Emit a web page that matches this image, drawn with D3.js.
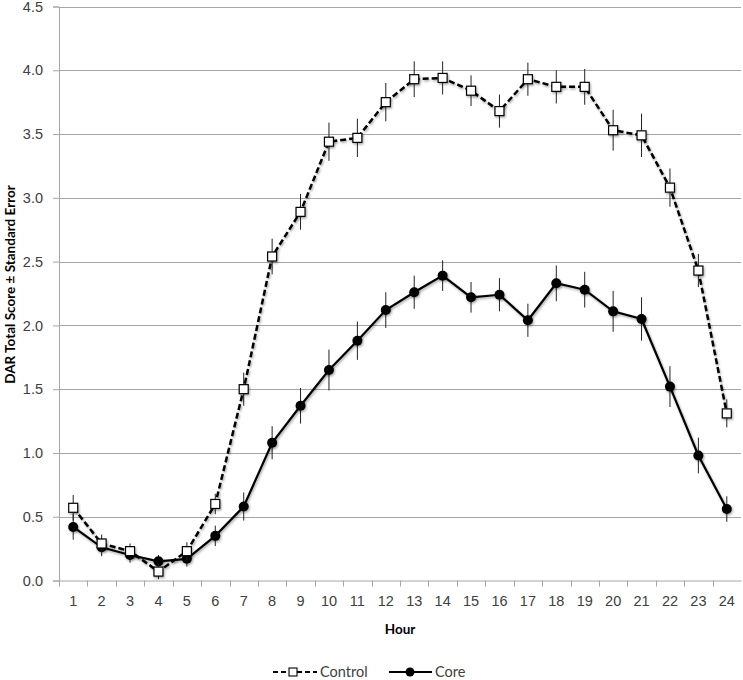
<!DOCTYPE html>
<html>
<head>
<meta charset="utf-8">
<script src="https://cdn.jsdelivr.net/npm/d3@7"></script>
<style>
  body { margin: 0; background: #fff; }
  svg { display: block; font-family: Lato, "Open Sans", sans-serif; }
  .tick text { fill: #404040; font-size: 14.5px; }
</style>
</head>
<body>
<div id="chart"></div>
<script>
const hours = d3.range(1, 25).map(String)
const yTicks = [0, 0.5, 1, 1.5, 2, 2.5, 3, 3.5, 4, 4.5]

const controlMean = [0.57, 0.29, 0.23, 0.07, 0.23, 0.60, 1.50, 2.54, 2.89, 3.44, 3.47, 3.75,
    3.93, 3.94, 3.84, 3.68, 3.93, 3.87, 3.87, 3.53, 3.49, 3.08, 2.43, 1.31]
const controlErr = [0.10, 0.07, 0.06, 0.06, 0.07, 0.08, 0.13, 0.14, 0.14, 0.15, 0.15, 0.15,
    0.14, 0.13, 0.12, 0.13, 0.13, 0.13, 0.14, 0.16, 0.17, 0.15, 0.13, 0.11]

const coreMean = [0.42, 0.26, 0.20, 0.15, 0.17, 0.35, 0.58, 1.08, 1.37, 1.65, 1.88, 2.12,
    2.26, 2.39, 2.22, 2.24, 2.04, 2.33, 2.28, 2.11, 2.05, 1.52, 0.98, 0.56]
const coreErr = [0.10, 0.07, 0.06, 0.05, 0.06, 0.08, 0.11, 0.13, 0.14, 0.16, 0.15, 0.14,
    0.13, 0.12, 0.12, 0.13, 0.13, 0.14, 0.14, 0.16, 0.17, 0.16, 0.14, 0.10]

const width = 743,
    height = 680,
    margin = {
        top: 6.5,
        right: 2,
        bottom: 99.5,
        left: 59
    }

const svg = d3.select("#chart").append("svg")
    .attr("width", width)
    .attr("height", height)

const defs = svg.append("defs")
const shadow = defs.append("filter").attr("id", "shadow")
    .attr("x", "-50%").attr("y", "-50%").attr("width", "200%").attr("height", "200%")
shadow.append("feDropShadow")
    .attr("dx", 1).attr("dy", 1.5).attr("stdDeviation", 1.2)
    .attr("flood-color", "#000").attr("flood-opacity", 0.35)

const x = d3.scaleBand().domain(hours).range([margin.left, width - margin.right])
const y = d3.scaleLinear().domain([0, 4.5]).range([height - margin.bottom, margin.top])
const cx = d => x(d) + x.bandwidth() / 2

// gridlines
svg.append("g")
    .selectAll("line")
    .data(yTicks.slice(1))
    .enter().append("line")
    .attr("x1", margin.left)
    .attr("x2", width - margin.right)
    .attr("y1", d => Math.round(y(d)) + 0.5)
    .attr("y2", d => Math.round(y(d)) + 0.5)
    .attr("stroke", "#a6a6a6")
    .attr("stroke-width", 1)

// y axis
const yAxis = svg.append("g")
    .attr("transform", `translate(${margin.left},0)`)
    .call(d3.axisLeft(y).tickValues(yTicks).tickFormat(d3.format(".1f")).tickSize(6).tickPadding(10))
yAxis.select(".domain").attr("stroke", "#a6a6a6")
yAxis.selectAll(".tick line").attr("stroke", "#a6a6a6")

// x axis
const xAxis = svg.append("g")
    .attr("transform", `translate(0,${y(0)})`)
    .call(d3.axisBottom(x).tickSize(0).tickPadding(15))
xAxis.select(".domain").attr("stroke", "#a6a6a6")
xAxis.selectAll(".tick text").attr("dy", "0.71em")
xAxis.selectAll(".boundary")
    .data(hours)
    .enter().append("line")
    .attr("class", "boundary")
    .attr("x1", d => Math.round(x(d)) + 0.5)
    .attr("x2", d => Math.round(x(d)) + 0.5)
    .attr("y1", 0)
    .attr("y2", 6)
    .attr("stroke", "#a6a6a6")

// axis titles
svg.append("text")
    .attr("transform", `translate(15,${(y(0) + y(4.5)) / 2 - 9}) rotate(-90)`)
    .attr("text-anchor", "middle")
    .style("font-size", "13.5px")
    .style("font-weight", "bold")
    .text("DAR Total Score ± Standard Error")

svg.append("text")
    .attr("x", (margin.left + width - margin.right) / 2)
    .attr("y", 634)
    .attr("text-anchor", "middle")
    .style("font-size", "13.5px")
    .style("font-weight", "bold")
    .text("Hour")

function drawSeries(mean, err, dashed, marker) {
    const data = hours.map((h, i) => ({ h: h, v: mean[i], e: err[i] }))
    const g = svg.append("g")

    g.selectAll(".err")
        .data(data)
        .enter().append("line")
        .attr("x1", d => cx(d.h))
        .attr("x2", d => cx(d.h))
        .attr("y1", d => y(d.v - d.e))
        .attr("y2", d => y(d.v + d.e))
        .attr("stroke", "#222")
        .attr("stroke-width", 1)

    g.append("path")
        .datum(data)
        .attr("d", d3.line().x(d => cx(d.h)).y(d => y(d.v)))
        .attr("fill", "none")
        .attr("stroke", "#000")
        .attr("stroke-width", dashed ? 2.5 : 2.2)
        .attr("stroke-dasharray", dashed ? "6,3" : null)
        .attr("filter", "url(#shadow)")

    if (marker === "square") {
        g.selectAll(".pt")
            .data(data)
            .enter().append("rect")
            .attr("x", d => cx(d.h) - 4.5)
            .attr("y", d => y(d.v) - 4.5)
            .attr("width", 9)
            .attr("height", 9)
            .attr("fill", "#fff")
            .attr("stroke", "#000")
            .attr("stroke-width", 1.2)
            .attr("filter", "url(#shadow)")
    } else {
        g.selectAll(".pt")
            .data(data)
            .enter().append("circle")
            .attr("cx", d => cx(d.h))
            .attr("cy", d => y(d.v))
            .attr("r", 5)
            .attr("fill", "#000")
            .attr("filter", "url(#shadow)")
    }
}

drawSeries(coreMean, coreErr, false, "circle")
drawSeries(controlMean, controlErr, true, "square")

// legend
const legend = svg.append("g").attr("transform", "translate(0,672)")
legend.append("line")
    .attr("x1", 273).attr("x2", 317).attr("y1", 0).attr("y2", 0)
    .attr("stroke", "#000").attr("stroke-width", 2.2).attr("stroke-dasharray", "5,3")
legend.append("rect")
    .attr("x", 289).attr("y", -4).attr("width", 8).attr("height", 8)
    .attr("fill", "#fff").attr("stroke", "#000").attr("stroke-width", 1.1)
legend.append("text")
    .attr("x", 320).attr("y", 5)
    .style("font-size", "14.5px").attr("fill", "#404040")
    .text("Control")
legend.append("line")
    .attr("x1", 389).attr("x2", 432).attr("y1", 0).attr("y2", 0)
    .attr("stroke", "#000").attr("stroke-width", 2.2)
legend.append("circle")
    .attr("cx", 410).attr("cy", 0).attr("r", 4.5).attr("fill", "#000")
legend.append("text")
    .attr("x", 435).attr("y", 5)
    .style("font-size", "14.5px").attr("fill", "#404040")
    .text("Core")
</script>
</body>
</html>
